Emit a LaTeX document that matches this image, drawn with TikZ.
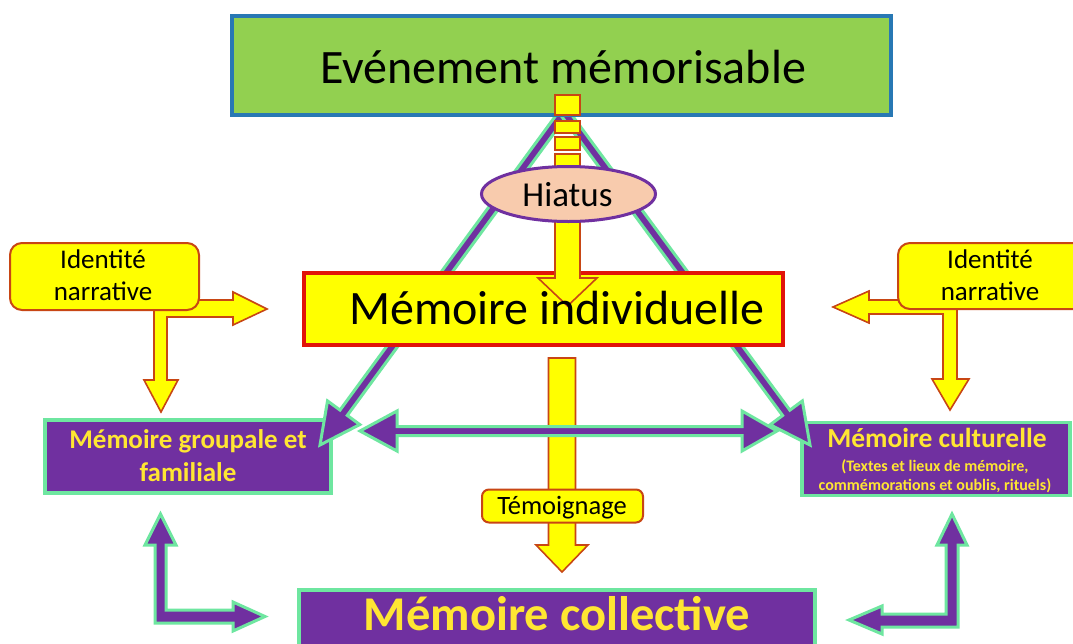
\documentclass[tikz,border=0pt]{standalone}
\usepackage{fontspec}
\setmainfont{Carlito}
\usetikzlibrary{calc,shapes.geometric}
\definecolor{mpurple}{RGB}{112,48,160}
\definecolor{mgreen}{RGB}{110,230,160}
\definecolor{tgreen}{RGB}{146,208,80}
\definecolor{tblue}{RGB}{40,120,180}
\definecolor{ared}{RGB}{225,20,10}
\definecolor{aorange}{RGB}{200,70,20}
\definecolor{mpeach}{RGB}{248,203,173}
\definecolor{myellow}{RGB}{255,255,0}
\definecolor{tyellow}{RGB}{255,230,50}
\tikzset{
  parrow/.style={fill=mpurple, draw=mgreen, line width=3pt, line join=miter},
  yarrow/.style={fill=myellow, draw=aorange, line width=1.6pt, line join=miter},
  pbox/.style={rectangle, fill=mpurple, draw=mgreen, line width=3.5pt, inner sep=0pt},
  ibox/.style={rectangle, rounded corners=12pt, fill=myellow, draw=aorange, line width=2pt, inner sep=0pt},
  ptext/.style={text=tyellow, font=\bfseries, inner sep=0pt, align=center},
  btext/.style={text=black, inner sep=0pt, align=center},
}
% #1 style, #2 start, #3 tip, #4 shaft half width, #5 head half width, #6 head length
\newcommand{\fatarrow}[6]{%
  \coordinate (#3b) at ($(#3)!#6!(#2)$);
  \path[#1] ($(#2)!#4!90:(#3)$) -- ($(#3b)!#4!-90:(#2)$) -- ($(#3b)!#5!-90:(#2)$)
    -- (#3) -- ($(#3b)!#5!90:(#2)$) -- ($(#3b)!#4!90:(#2)$) -- ($(#2)!#4!-90:(#3)$) -- cycle;}
\begin{document}
\begin{tikzpicture}[x=1pt,y=-1pt]
\useasboundingbox (0,0) rectangle (1073,643);
\fill[white] (0,0) rectangle (1073,643);

% lower purple boxes
\node[pbox, minimum width=286pt, minimum height=73pt] (grp) at (188,456.5) {};
\node[pbox, minimum width=268pt, minimum height=73pt] (cul) at (936,459) {};
\node[pbox, minimum width=516pt, minimum height=80pt] (col) at (557,630) {};

% triangle legs
\coordinate (apex) at (564,112);
\coordinate (tipL) at (320,445);
\coordinate (tipR) at (810,445);
\fatarrow{parrow}{apex}{tipL}{4.5pt}{20pt}{40pt}
\fatarrow{parrow}{apex}{tipR}{4.5pt}{20pt}{40pt}

% top box
\node[rectangle, draw=tblue, fill=tgreen, line width=4pt, minimum width=659pt, minimum height=99pt, inner sep=0pt] (ev) at (561.5,65) {};
\node[btext, anchor=base, font=\fontsize{48}{50}\selectfont] (evT) at (563,83) {Evénement mémorisable};

% individual memory box
\node[rectangle, draw=ared, fill=myellow, line width=4pt, minimum width=479pt, minimum height=72pt, inner sep=0pt] (ind) at (543.5,309) {};

% hiatus dashed arrow
\path[yarrow] (555,95) rectangle (580,115);
\path[yarrow] (555,121) rectangle (580,133);
\path[yarrow] (555,137) rectangle (580,150);
\path[yarrow] (555,154) -- (555,278) -- (538,278) -- (567.5,306) -- (597,278) -- (580,278) -- (580,154) -- cycle;
\node[ellipse, draw=mpurple, fill=mpeach, line width=3pt, minimum width=174pt, minimum height=55pt, inner sep=0pt] (hia) at (568.5,194) {};
\node[btext, anchor=base, font=\fontsize{35}{38}\selectfont] (hiaT) at (567.5,206) {Hiatus};
\node[btext, anchor=base, font=\fontsize{48}{50}\selectfont] (indT) at (557,324) {Mémoire individuelle};

% identity arrows (L shaped)
\path[yarrow] (154,290) -- (154,380) -- (144,380) -- (161,412) -- (178,380) -- (167,380) -- (167,317)
  -- (233,317) -- (233,325) -- (267,309) -- (233,292) -- (233,300) -- (180,300) -- (180,290) -- cycle;
\path[yarrow] (957,290) -- (957,379) -- (969,379) -- (950,410) -- (932,379) -- (943,379) -- (943,314)
  -- (869,314) -- (869,323) -- (833,307) -- (869,291) -- (869,300) -- (920,300) -- (920,290) -- cycle;
\node[ibox, minimum width=189pt, minimum height=67pt] (idL) at (104.5,276.5) {};
\node[ibox, minimum width=204pt, minimum height=66pt] (idR) at (1000,276) {};
\node[btext, font=\fontsize{27}{32}\selectfont] (idLT) at (103,275.6) {Identité\\narrative};
\node[btext, font=\fontsize{27}{32}\selectfont] (idRT) at (990,275.6) {Identité\\narrative};

% temoignage arrow
\path[yarrow] (548.5,358) -- (548.5,545) -- (536,545) -- (562,572) -- (588,545) -- (575.5,545) -- (575.5,358) -- cycle;

% horizontal double arrow
\coordinate (hL) at (360,431);
\coordinate (hR) at (777,431);
\path[parrow] (hL) -- (397,411) -- (397,426.5) -- (742,426.5) -- (742,411) -- (hR) -- (742,451) -- (742,435.5) -- (397,435.5) -- (397,451) -- cycle;

\node[ibox, rounded corners=7pt, minimum width=161pt, minimum height=33pt] (tem) at (562.5,506) {};
\node[btext, anchor=base, font=\fontsize{26.5}{30}\selectfont] (temT) at (562,514) {Témoignage};

% bottom L arrows
\path[parrow] (155,545) -- (145,545) -- (160.5,514) -- (176,545) -- (166,545) -- (166,610) -- (233,610)
  -- (233,602) -- (265,616.5) -- (233,631) -- (233,623) -- (155,623) -- cycle;
\path[parrow] (946,545) -- (937,545) -- (952,514) -- (967,545) -- (958,545) -- (958,627) -- (882,627)
  -- (882,634) -- (849,620) -- (882,606) -- (882,614) -- (946,614) -- cycle;

% texts of purple boxes
\node[ptext, font=\fontsize{27}{33}\selectfont\bfseries] (grpT) at (188,456) {Mémoire groupale et\\familiale};
\node[ptext, anchor=base, font=\fontsize{27.5}{30}\selectfont\bfseries] (culT) at (937,447) {Mémoire culturelle};
\node[ptext, font=\fontsize{16}{19}\selectfont\bfseries] (culS) at (935,476) {(Textes et lieux de mémoire,\\commémorations et oublis, rituels)};
\node[ptext, anchor=base, font=\fontsize{48.5}{50}\selectfont\bfseries] (colT) at (557,630) {Mémoire collective};
\end{tikzpicture}
\end{document}
